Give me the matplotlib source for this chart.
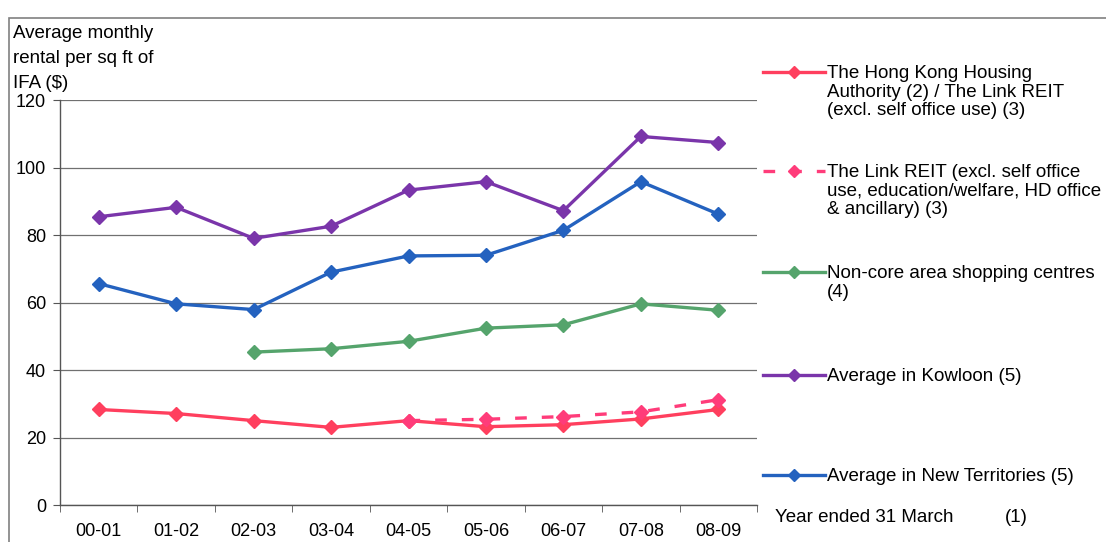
import numpy as np
import matplotlib
matplotlib.use("Agg")
import matplotlib.pyplot as plt
from matplotlib.lines import Line2D
from matplotlib.patches import Rectangle

plt.rcParams['font.family'] = ['Liberation Sans', 'DejaVu Sans']

# data
years = ["00-01", "01-02", "02-03", "03-04", "04-05", "05-06", "06-07", "07-08", "08-09"]
ha_link = [28.3, 27.1, 25.0, 23.0, 25.0, 23.2, 23.8, 25.5, 28.3]
link_excl = [None, None, None, None, 25.0, 25.4, 26.2, 27.6, 31.2]
non_core = [None, None, 45.3, 46.3, 48.5, 52.4, 53.4, 59.6, 57.7]
kowloon = [85.4, 88.2, 79.0, 82.6, 93.3, 95.8, 87.2, 109.2, 107.4]
new_terr = [65.6, 59.6, 57.9, 69.0, 73.8, 74.0, 81.4, 95.8, 86.2]

labels = [
    "The Hong Kong Housing\nAuthority (2) / The Link REIT\n(excl. self office use) (3)",
    "The Link REIT (excl. self office\nuse, education/welfare, HD office\n& ancillary) (3)",
    "Non-core area shopping centres\n(4)",
    "Average in Kowloon (5)",
    "Average in New Territories (5)",
]
series = [ha_link, link_excl, non_core, kowloon, new_terr]
colors = ["#FF3F5E", "#FF3C7A", "#55A46C", "#7A35AA", "#2462BF"]
styles = ["-", (0, (3.5, 4.5)), "-", "-", "-"]

W, H = 1106, 542
fig = plt.figure(figsize=(W / 100, H / 100), dpi=100)
ax = fig.add_axes([60 / W, 1 - 505 / H, 697 / W, 405 / H])

x = np.arange(len(years))
for vals, col, ls in zip(series, colors, styles):
    y = np.array([np.nan if v is None else v for v in vals])
    ax.plot(x, y, color=col, linestyle=ls, linewidth=2.4, marker="D",
            markersize=7, markeredgecolor=col, markerfacecolor=col, zorder=3)

ax.set_xlim(-0.5, len(years) - 0.5)
ax.set_ylim(0, 120)
ax.set_yticks(range(0, 121, 20))
ax.set_xticks(x)
ax.set_xticklabels(years)
ax.set_xticks(np.arange(-0.5, len(years)), minor=True)
ax.tick_params(axis="x", which="major", length=0, pad=13, labelsize=13)
ax.tick_params(axis="x", which="minor", length=5, direction="out", color="#555555")
ax.tick_params(axis="y", length=5, direction="out", pad=5, labelsize=13, color="#555555")
ax.grid(axis="y", color="#707070", linewidth=0.9)
for s in ["top", "right"]:
    ax.spines[s].set_visible(False)
for s in ["left", "bottom"]:
    ax.spines[s].set_color("#555555")
    ax.spines[s].set_linewidth(1.0)

# y axis title in the top-left corner
fig.text(13 / W, 1 - 25 / H, "Average monthly\nrental per sq ft of\nIFA ($)",
         fontsize=13.5, va="top", ha="left", linespacing=1.63)

# legend on the right, handle aligned with first text line
leg_y = [72, 171, 272, 375, 475]
for yy, col, ls, lab in zip(leg_y, colors, styles, labels):
    fy = 1 - yy / H
    fig.add_artist(Line2D([763 / W, 825 / W], [fy, fy], color=col, linestyle=ls,
                          linewidth=2.4, transform=fig.transFigure))
    fig.add_artist(Line2D([794 / W], [fy], color=col, marker="D", markersize=6,
                          transform=fig.transFigure))
    fig.text(827 / W, fy + 7 / H, lab, fontsize=13.5, va="top", ha="left",
             linespacing=1.12)

fig.text(775 / W, 1 - 518 / H, "Year ended 31 March", fontsize=13.5, va="center")
fig.text(1005 / W, 1 - 518 / H, "(1)", fontsize=13.5, va="center")

# outer frame of the chart area
fig.add_artist(Rectangle((9 / W, -0.1), 1.2, 1 - 18 / H + 0.1, fill=False,
                         edgecolor="#808080", linewidth=1.2,
                         transform=fig.transFigure, clip_on=False))

fig.savefig("out.png", dpi=100)
